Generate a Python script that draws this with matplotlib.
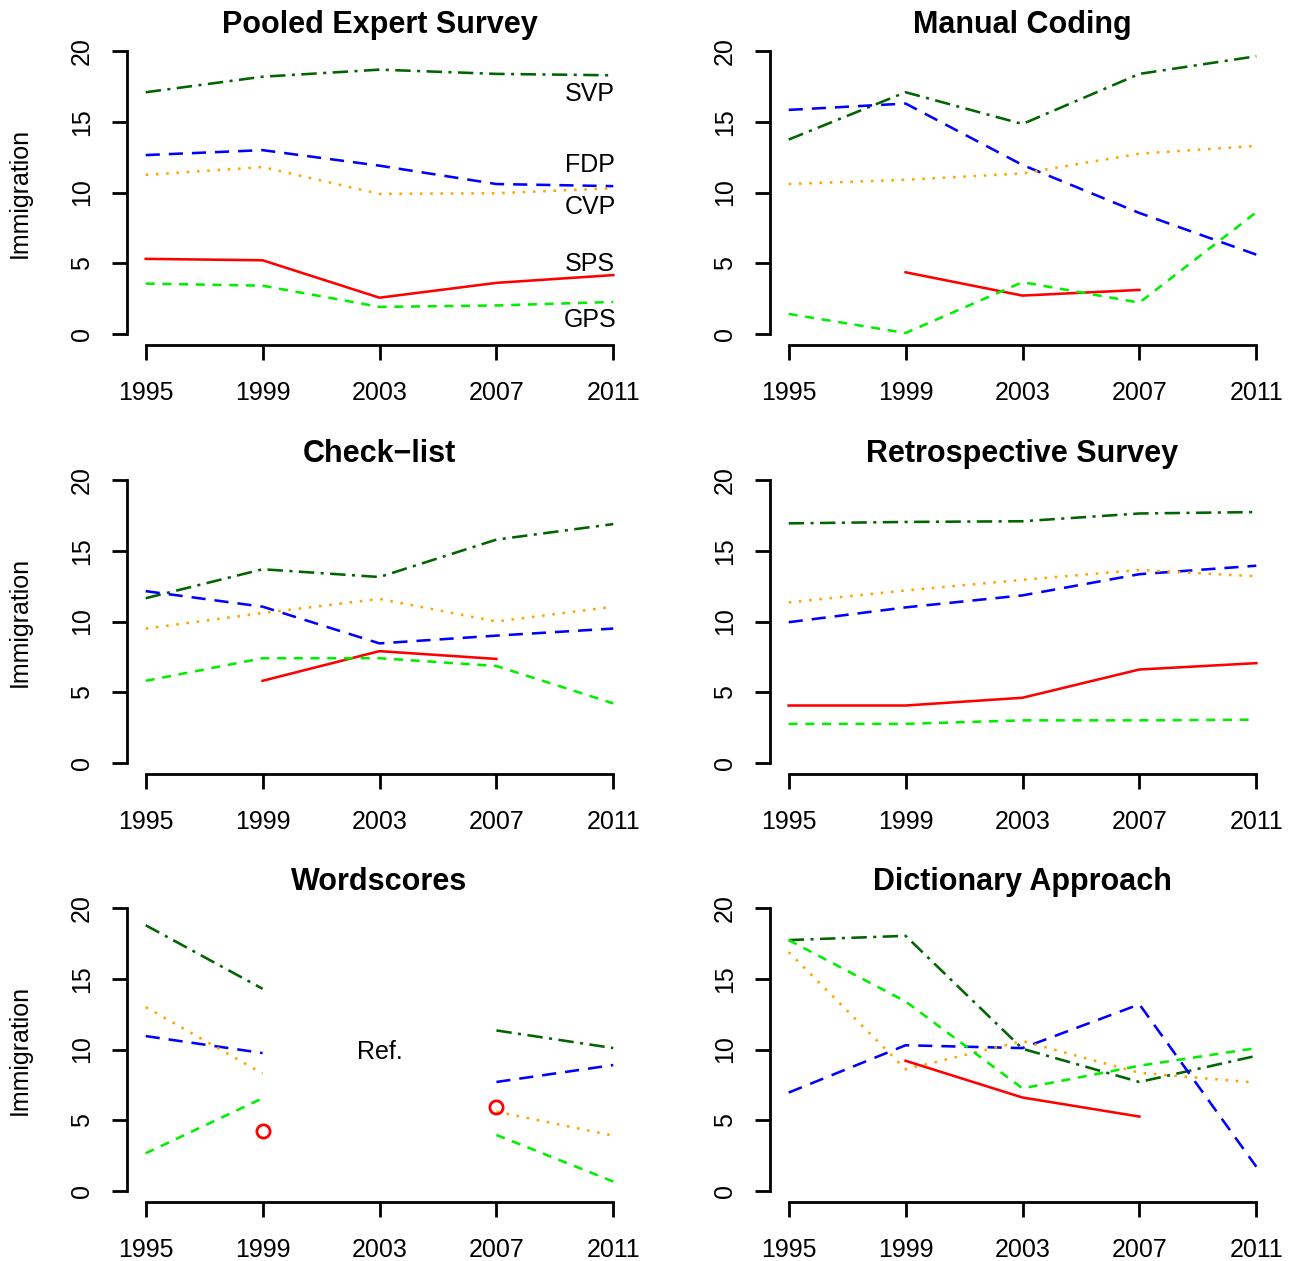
import matplotlib
matplotlib.use("Agg")
import matplotlib.pyplot as plt
import numpy as np

plt.rcParams['font.family'] = ['Liberation Sans', 'DejaVu Sans']

years = [1995, 1999, 2003, 2007, 2011]
parties = ["SVP", "FDP", "CVP", "SPS", "GPS"]
nan = np.nan

# values (nan = no estimate)
expert = {
    "SVP": [17.1, 18.2, 18.7, 18.4, 18.3],
    "FDP": [12.65, 13.0, 11.9, 10.6, 10.45],
    "CVP": [11.25, 11.8, 9.9, 9.95, 10.3],
    "SPS": [5.3, 5.2, 2.55, 3.6, 4.15],
    "GPS": [3.55, 3.4, 1.9, 2.0, 2.25],
}
manual = {
    "SVP": [13.75, 17.1, 14.85, 18.4, 19.65],
    "FDP": [15.85, 16.3, 11.95, 8.55, 5.6],
    "CVP": [10.6, 10.9, 11.35, 12.75, 13.3],
    "SPS": [nan, 4.35, 2.7, 3.1, nan],
    "GPS": [1.4, 0.05, 3.65, 2.2, 8.6],
}
checklist = {
    "SVP": [11.65, 13.7, 13.15, 15.8, 16.9],
    "FDP": [12.15, 11.05, 8.45, 9.0, 9.5],
    "CVP": [9.5, 10.6, 11.6, 10.0, 11.05],
    "SPS": [nan, 5.8, 7.9, 7.35, nan],
    "GPS": [5.8, 7.4, 7.4, 6.85, 4.2],
}
retro = {
    "SVP": [16.95, 17.05, 17.1, 17.65, 17.75],
    "FDP": [9.95, 11.0, 11.85, 13.35, 13.95],
    "CVP": [11.35, 12.2, 12.95, 13.65, 13.2],
    "SPS": [4.05, 4.05, 4.6, 6.6, 7.05],
    "GPS": [2.75, 2.75, 3.0, 3.0, 3.05],
}
wordscores = {
    "SVP": [18.8, 14.3, nan, 11.35, 10.1],
    "FDP": [10.95, 9.75, nan, 7.7, 8.9],
    "CVP": [13.0, 8.3, nan, 5.6, 3.9],
    "SPS": [nan, 4.2, nan, 5.9, nan],
    "GPS": [2.65, 6.55, nan, 3.95, 0.65],
}
dictionary = {
    "SVP": [17.75, 18.05, 10.05, 7.7, 9.55],
    "FDP": [6.95, 10.3, 10.1, 13.2, 1.7],
    "CVP": [16.9, 8.6, 10.6, 8.35, 7.65],
    "SPS": [nan, 9.2, 6.6, 5.25, nan],
    "GPS": [17.75, 13.4, 7.25, 8.85, 10.1],
}

titles = ["Pooled Expert Survey", "Manual Coding", "Check\u2212list",
          "Retrospective Survey", "Wordscores", "Dictionary Approach"]
datasets = [expert, manual, checklist, retro, wordscores, dictionary]

# party labels in first panel
label_year = 2010.2
label_y = {"SVP": 16.95, "FDP": 11.95, "CVP": 8.95, "SPS": 4.95, "GPS": 1.0}

styles = {
    "SVP": dict(color="#006400", linestyle=(0, (6, 2.5, 1.2, 2.5))),
    "FDP": dict(color="#0000FF", linestyle=(0, (5.5, 3.5))),
    "CVP": dict(color="#FFA500", linestyle=(0, (1, 3))),
    "SPS": dict(color="#FF0000", linestyle="-"),
    "GPS": dict(color="#00EE00", linestyle=(0, (3.5, 3))),
}

W, H = 1293, 1261
fig = plt.figure(figsize=(W / 100, H / 100), dpi=100, facecolor="white")

col_left = [127, 770]
row_top = [40, 469, 897]
aw, ah = 505, 305

for i, (title, data) in enumerate(zip(titles, datasets)):
    r, c = divmod(i, 2)
    left = col_left[c] / W
    bottom = 1 - (row_top[r] + ah) / H
    ax = fig.add_axes([left, bottom, aw / W, ah / H])
    for p in parties:
        y = np.array(data[p], dtype=float)
        if title == "Wordscores" and p == "SPS":
            ax.plot(years, y, "o", mfc="none", mec="#FF0000", mew=2, ms=9.5)
        else:
            ax.plot(years, y, lw=1.85, **styles[p])
    ax.set_xlim(1995 - 0.64, 2011 + 0.64)
    ax.set_ylim(-0.8, 20.8)
    ax.set_xticks(years)
    ax.set_yticks([0, 5, 10, 15, 20])
    ax.spines["top"].set_visible(False)
    ax.spines["right"].set_visible(False)
    ax.spines["left"].set_bounds(0, 20)
    ax.spines["bottom"].set_bounds(1995, 2011)
    ax.spines["left"].set_linewidth(2.0)
    ax.spines["bottom"].set_linewidth(2.0)
    ax.tick_params(axis="both", direction="out", length=11, width=2.0,
                   labelsize=18)
    ax.tick_params(axis="x", pad=15)
    ax.tick_params(axis="y", pad=13)
    for lab in ax.get_yticklabels():
        lab.set_rotation(90)
        lab.set_va("center")
    ax.set_title(title, fontsize=22, fontweight="bold", pad=4)
    if c == 0:
        ax.set_ylabel("Immigration", fontsize=18, labelpad=27)
    if i == 0:
        for p in parties:
            ax.text(label_year, label_y[p], p, fontsize=18, ha="center", va="center")
    if title == "Wordscores":
        ax.text(2003, 9.8, "Ref.", fontsize=18, ha="center", va="center")

fig.savefig("out.png", dpi=100, facecolor="white")
